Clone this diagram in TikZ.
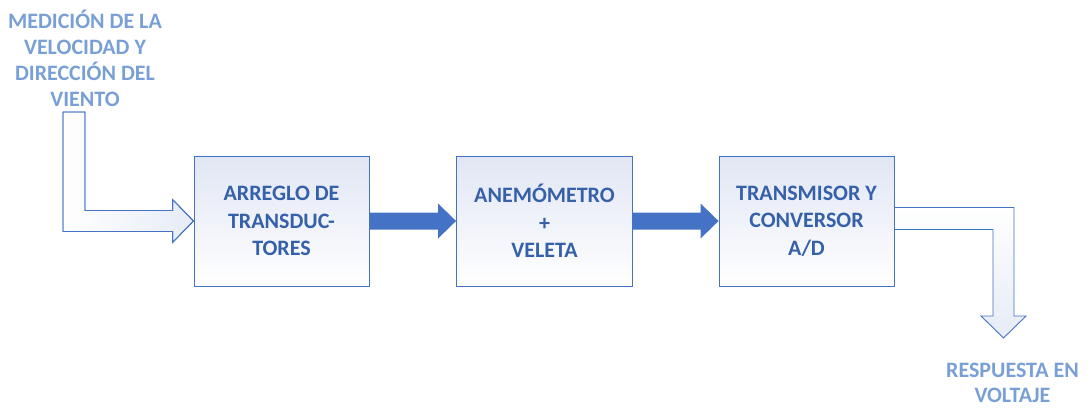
\documentclass[tikz,border=0pt]{standalone}
\usepackage{fontspec}
\setmainfont{Carlito}
\usetikzlibrary{calc}
\definecolor{accent}{HTML}{4472C4}
\definecolor{boxtext}{HTML}{3560AA}
\definecolor{labeltext}{HTML}{79A0D6}
\definecolor{boxtint}{HTML}{E1E6F4}
\definecolor{arrowtint}{HTML}{E6EBF6}
\tikzset{
  blockbox/.style={draw=accent, line width=0.9pt, shade, shading angle=45,
    top color=boxtint, bottom color=white, minimum width=175pt, minimum height=130pt,
    align=center, text=boxtext, font=\fontsize{22}{27.5}\selectfont\bfseries, inner sep=0pt},
  outlabel/.style={align=center, text=labeltext, font=\fontsize{22}{26}\selectfont\bfseries, inner sep=0pt},
  solidarrow/.style={fill=accent},
  hollowarrow/.style={draw=accent, line width=0.9pt, line join=miter},
}
\newcommand\linkarrow[2]{%
  \fill[solidarrow] ($(#1.east)+(0,-8.5)$) -- ($(#2.west)+(-18,-8.5)$)
    -- ($(#2.west)+(-18,-17.5)$) -- (#2.west) -- ($(#2.west)+(-18,17.5)$)
    -- ($(#2.west)+(-18,8.5)$) -- ($(#1.east)+(0,8.5)$) -- cycle;}
\begin{document}
\begin{tikzpicture}[x=1pt,y=-1pt]
\useasboundingbox (0,0) rectangle (1091,408);

% processing blocks
\node[blockbox] (b1) at (281.5,221) {ARREGLO DE\\TRANSDUC-\\TORES};
\node[blockbox, minimum width=176pt] (b2) at (544.5,221) {ANEMÓMETRO\\+\\VELETA};
\node[blockbox] (b3) at (806.5,221) {TRANSMISOR Y\\CONVERSOR\\A/D};

% input and output labels
\node[outlabel] (inlabel) at (85,58) {MEDICIÓN DE LA\\VELOCIDAD Y\\DIRECCIÓN DEL\\VIENTO};
\node[outlabel, font=\fontsize{22}{25}\selectfont\bfseries] (outlabel) at (1012.5,383) {RESPUESTA EN\\VOLTAJE};
\coordinate (src) at (74,112);
\coordinate (dst) at (1003.5,338);

% solid arrows between the blocks
\linkarrow{b1}{b2}
\linkarrow{b2}{b3}

% bent outline arrow into the first block
\path[hollowarrow, shade, left color=white, right color=arrowtint]
  ($(src)+(-11,0)$) -- ($(src)+(11,0)$) |- ($(b1.west)+(-21,-10.5)$)
  -- ($(b1.west)+(-21,-21.5)$) -- (b1.west) -- ($(b1.west)+(-21,21.5)$)
  -- ($(b1.west)+(-21,10.5)$) -| cycle;
\draw[hollowarrow]
  ($(src)+(-11,0)$) -- ($(src)+(11,0)$) |- ($(b1.west)+(-21,-10.5)$)
  -- ($(b1.west)+(-21,-21.5)$) -- (b1.west) -- ($(b1.west)+(-21,21.5)$)
  -- ($(b1.west)+(-21,10.5)$) -| cycle;

% bent outline arrow out of the last block
\path[hollowarrow, shade, top color=white, bottom color=arrowtint]
  ($(b3.east)+(0,-13.5)$) -| ($(dst)+(10.5,-22)$) -- ($(dst)+(22.5,-22)$)
  -- (dst) -- ($(dst)+(-22.5,-22)$) -- ($(dst)+(-10.5,-22)$)
  |- ($(b3.east)+(0,8.5)$) -- cycle;
\end{tikzpicture}
\end{document}
